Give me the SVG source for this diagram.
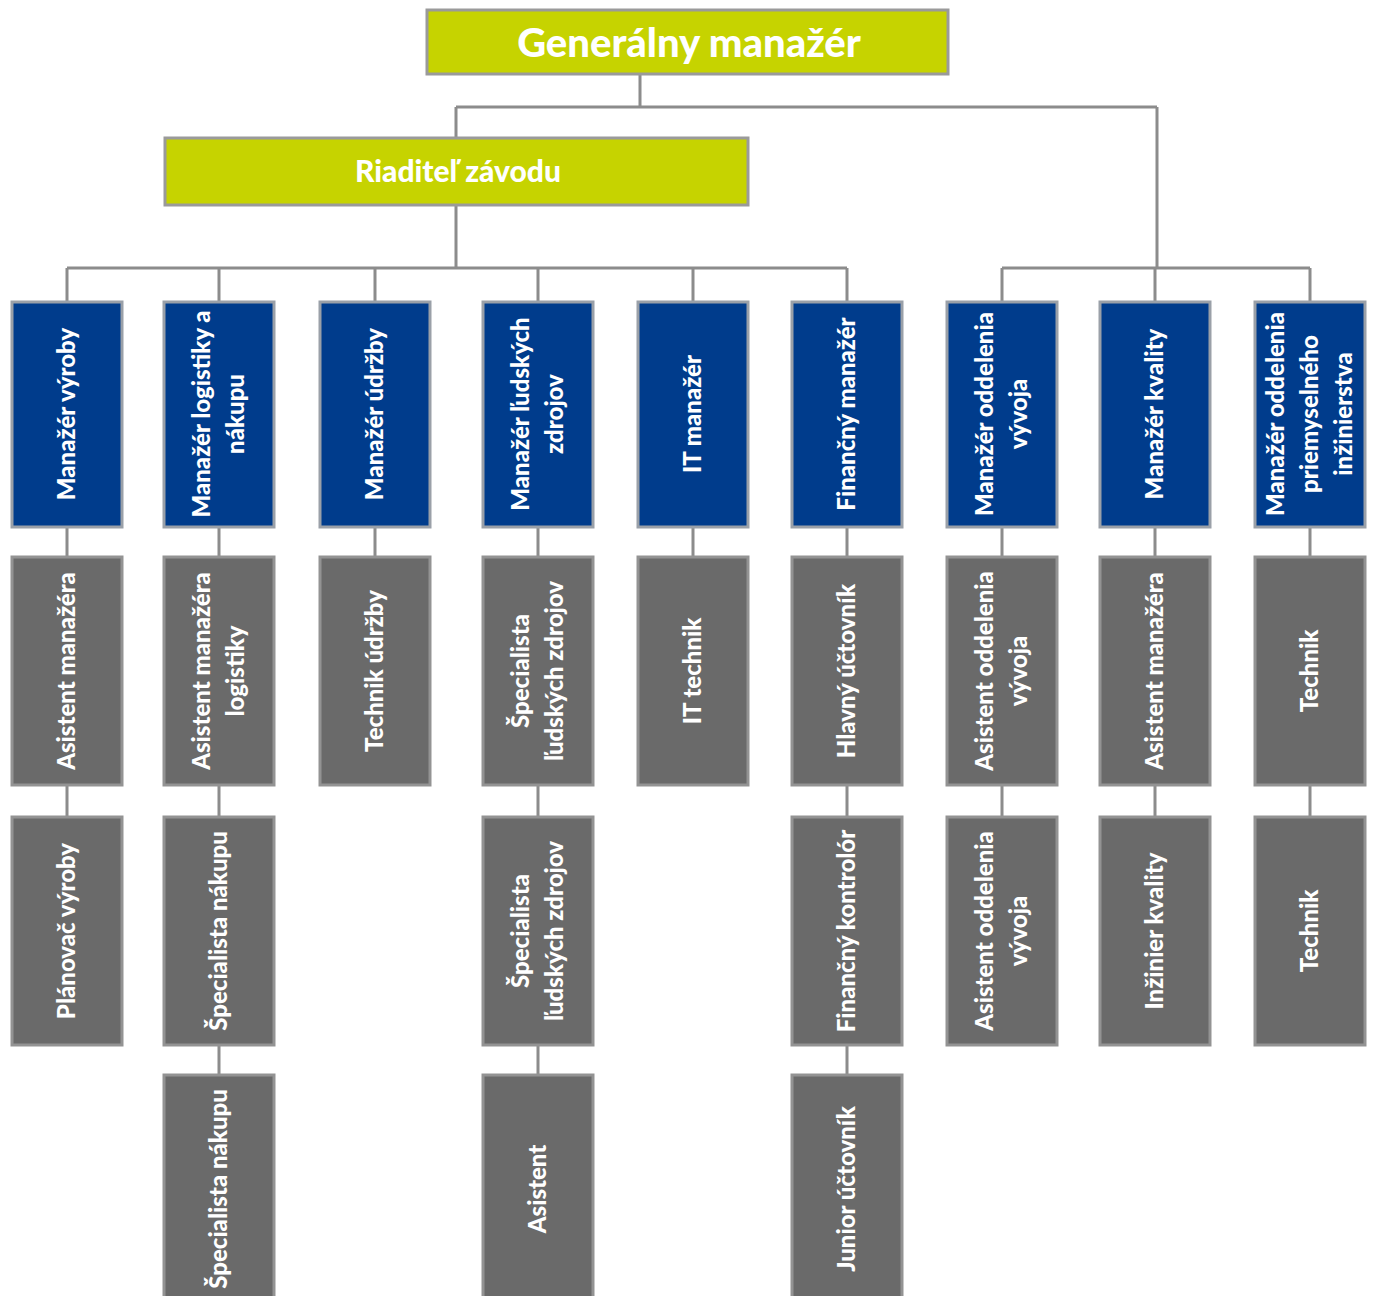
<svg xmlns="http://www.w3.org/2000/svg" width="1375" height="1296" viewBox="0 0 1375 1296">
<style>
.g{fill:#c6d300;stroke:#9a9a9a;stroke-width:3}
.b{fill:#003c8c;stroke:#9aa0a8;stroke-width:3}
.r{fill:#6a6a6a;stroke:#939393;stroke-width:3}
.t{font-family:Lato,"Open Sans",sans-serif;font-weight:900;fill:#ffffff;text-anchor:middle}
.v{font-size:24px}
.c{fill:none;stroke:#8c8c8c;stroke-width:3}
</style>
<rect width="1375" height="1296" fill="#ffffff"/>
<g id="connectors">
<path class="c" d="M640 74V107M456 107H1157M456 107V138M1157 107V268M456 205V268M67 268H847M1002 268H1310"/>
<path class="c" d="M67 268V302M219 268V302M375 268V302M538 268V302M693 268V302M847 268V302M1002 268V302M1155 268V302M1310 268V302"/>
<path class="c" d="M67 527V817M219 527V1075M375 527V557M538 527V1075M693 527V557M847 527V1075M1002 527V817M1155 527V817M1310 527V817"/>
</g>
<g id="gm"><rect class="g" x="427" y="10" width="521" height="64"/><text class="t" x="689" y="57" font-size="40">Generálny manažér</text></g>
<g id="rz"><rect class="g" x="165" y="138" width="583" height="67"/><text class="t" x="458" y="182" font-size="30">Riaditeľ závodu</text></g>

<g id="n1"><rect class="b" x="12" y="302" width="110" height="225"/><text class="t v" transform="translate(67 414) rotate(-90)" y="8">Manažér výroby</text></g>
<g id="n2"><rect class="b" x="164" y="302" width="110" height="225"/><text class="t v" transform="translate(219 414) rotate(-90)"><tspan x="0" y="-9">Manažér logistiky a</tspan><tspan x="0" y="25">nákupu</tspan></text></g>
<g id="n3"><rect class="b" x="320" y="302" width="110" height="225"/><text class="t v" transform="translate(375 414) rotate(-90)" y="8">Manažér údržby</text></g>
<g id="n4"><rect class="b" x="483" y="302" width="110" height="225"/><text class="t v" transform="translate(538 414) rotate(-90)"><tspan x="0" y="-9">Manažér ľudských</tspan><tspan x="0" y="25">zdrojov</tspan></text></g>
<g id="n5"><rect class="b" x="638" y="302" width="110" height="225"/><text class="t v" transform="translate(693 414) rotate(-90)" y="8">IT manažér</text></g>
<g id="n6"><rect class="b" x="792" y="302" width="110" height="225"/><text class="t v" transform="translate(847 414) rotate(-90)" y="8">Finančný manažér</text></g>
<g id="n7"><rect class="b" x="947" y="302" width="110" height="225"/><text class="t v" transform="translate(1002 414) rotate(-90)"><tspan x="0" y="-9">Manažér oddelenia</tspan><tspan x="0" y="25">vývoja</tspan></text></g>
<g id="n8"><rect class="b" x="1100" y="302" width="110" height="225"/><text class="t v" transform="translate(1155 414) rotate(-90)" y="8">Manažér kvality</text></g>
<g id="n9"><rect class="b" x="1255" y="302" width="110" height="225"/><text class="t v" transform="translate(1310 414) rotate(-90)"><tspan x="0" y="-26">Manažér oddelenia</tspan><tspan x="0" y="8">priemyselného</tspan><tspan x="0" y="42">inžinierstva</tspan></text></g>

<g id="a1"><rect class="r" x="12" y="557" width="110" height="228"/><text class="t v" transform="translate(67 671) rotate(-90)" y="8">Asistent manažéra</text></g>
<g id="a2"><rect class="r" x="164" y="557" width="110" height="228"/><text class="t v" transform="translate(219 671) rotate(-90)"><tspan x="0" y="-9">Asistent manažéra</tspan><tspan x="0" y="25">logistiky</tspan></text></g>
<g id="a3"><rect class="r" x="320" y="557" width="110" height="228"/><text class="t v" transform="translate(375 671) rotate(-90)" y="8">Technik údržby</text></g>
<g id="a4"><rect class="r" x="483" y="557" width="110" height="228"/><text class="t v" transform="translate(538 671) rotate(-90)"><tspan x="0" y="-9">Špecialista</tspan><tspan x="0" y="25">ľudských zdrojov</tspan></text></g>
<g id="a5"><rect class="r" x="638" y="557" width="110" height="228"/><text class="t v" transform="translate(693 671) rotate(-90)" y="8">IT technik</text></g>
<g id="a6"><rect class="r" x="792" y="557" width="110" height="228"/><text class="t v" transform="translate(847 671) rotate(-90)" y="8">Hlavný účtovník</text></g>
<g id="a7"><rect class="r" x="947" y="557" width="110" height="228"/><text class="t v" transform="translate(1002 671) rotate(-90)"><tspan x="0" y="-9">Asistent oddelenia</tspan><tspan x="0" y="25">vývoja</tspan></text></g>
<g id="a8"><rect class="r" x="1100" y="557" width="110" height="228"/><text class="t v" transform="translate(1155 671) rotate(-90)" y="8">Asistent manažéra</text></g>
<g id="a9"><rect class="r" x="1255" y="557" width="110" height="228"/><text class="t v" transform="translate(1310 671) rotate(-90)" y="8">Technik</text></g>

<g id="b1"><rect class="r" x="12" y="817" width="110" height="228"/><text class="t v" transform="translate(67 931) rotate(-90)" y="8">Plánovač výroby</text></g>
<g id="b2"><rect class="r" x="164" y="817" width="110" height="228"/><text class="t v" transform="translate(219 931) rotate(-90)" y="8">Špecialista nákupu</text></g>
<g id="b4"><rect class="r" x="483" y="817" width="110" height="228"/><text class="t v" transform="translate(538 931) rotate(-90)"><tspan x="0" y="-9">Špecialista</tspan><tspan x="0" y="25">ľudských zdrojov</tspan></text></g>
<g id="b6"><rect class="r" x="792" y="817" width="110" height="228"/><text class="t v" transform="translate(847 931) rotate(-90)" y="8">Finančný kontrolór</text></g>
<g id="b7"><rect class="r" x="947" y="817" width="110" height="228"/><text class="t v" transform="translate(1002 931) rotate(-90)"><tspan x="0" y="-9">Asistent oddelenia</tspan><tspan x="0" y="25">vývoja</tspan></text></g>
<g id="b8"><rect class="r" x="1100" y="817" width="110" height="228"/><text class="t v" transform="translate(1155 931) rotate(-90)" y="8">Inžinier kvality</text></g>
<g id="b9"><rect class="r" x="1255" y="817" width="110" height="228"/><text class="t v" transform="translate(1310 931) rotate(-90)" y="8">Technik</text></g>

<g id="c2"><rect class="r" x="164" y="1075" width="110" height="228"/><text class="t v" transform="translate(219 1189) rotate(-90)" y="8">Špecialista nákupu</text></g>
<g id="c4"><rect class="r" x="483" y="1075" width="110" height="228"/><text class="t v" transform="translate(538 1189) rotate(-90)" y="8">Asistent</text></g>
<g id="c6"><rect class="r" x="792" y="1075" width="110" height="228"/><text class="t v" transform="translate(847 1189) rotate(-90)" y="8">Junior účtovník</text></g>
</svg>
